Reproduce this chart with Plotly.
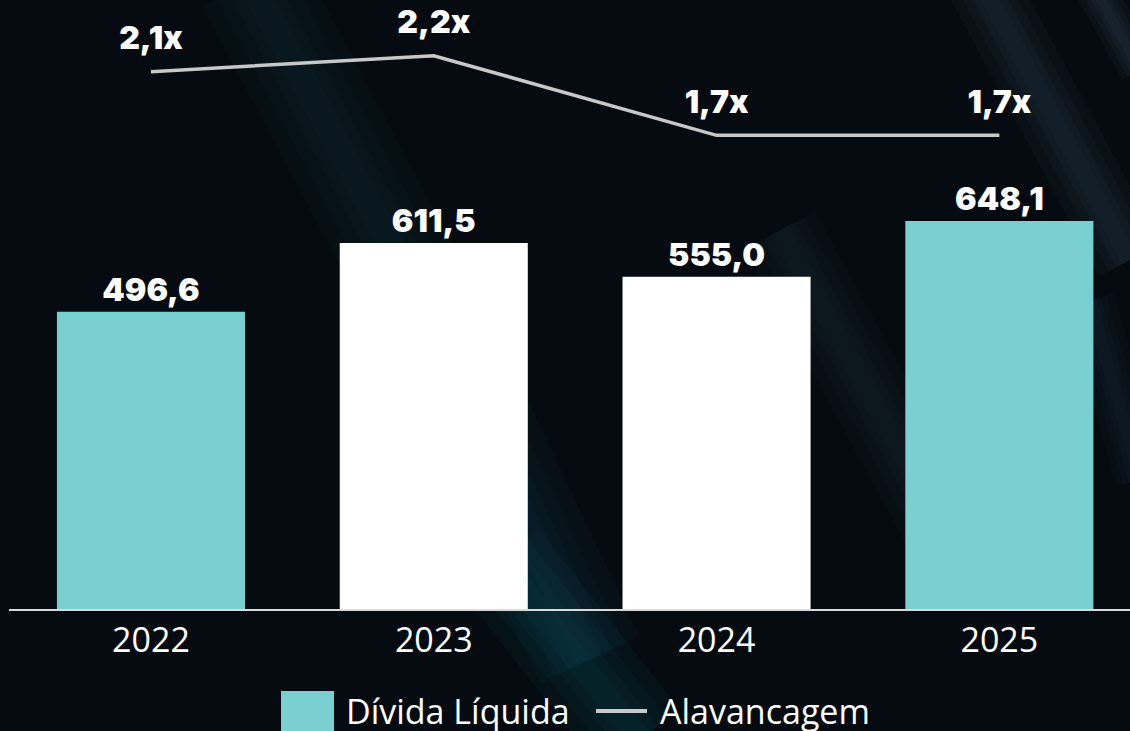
import plotly.graph_objects as go

# ---- data ----
years = ["2022", "2023", "2024", "2025"]
divida_liquida = [496.6, 611.5, 555.0, 648.1]
divida_labels = ["496,6", "611,5", "555,0", "648,1"]
alavancagem = [2.1, 2.2, 1.7, 1.7]
alavancagem_labels = ["2,1x", "2,2x", "1,7x", "1,7x"]
bar_colors = ["#7ACFD1", "#FFFFFF", "#FFFFFF", "#7ACFD1"]

W, H = 1130, 731
ML, MR, MT, MB = 9, 0, 0, 122
PW, PH = W - ML - MR, H - MT - MB


def px(x):
    return (x - ML) / PW


def py(y):
    return (H - MB - y) / PH


label_font = dict(family="Inter, DejaVu Sans", size=32, color="#FFFFFF", weight=900)

fig = go.Figure()
fig.add_trace(go.Bar(
    x=years, y=divida_liquida, name="Dívida Líquida",
    marker=dict(color=bar_colors, line=dict(width=0)),
    width=0.665,
    text=divida_labels, textposition="outside", textfont=label_font,
    cliponaxis=False, showlegend=False,
))
fig.add_trace(go.Scatter(
    x=years, y=alavancagem, name="Alavancagem", yaxis="y2",
    mode="lines+markers+text",
    line=dict(color="#C8C8C8", width=3.5),
    marker=dict(size=22, opacity=0),
    text=alavancagem_labels, textposition="top center", textfont=label_font,
    cliponaxis=False, showlegend=False,
))

shapes = []
# faint, soft background light streaks (stacked widths to mimic blur)
streaks = [
    ((250, -20), (420, 300), (25, 50, 70), 110),
    ((420, 300), (590, 660), (20, 70, 85), 110),
    ((500, 560), (640, 740), (12, 85, 95), 100),
    ((980, -20), (1130, 260), (60, 80, 100), 70),
    ((1090, -20), (1140, 70), (70, 90, 110), 40),
    ((780, 230), (960, 560), (30, 52, 70), 80),
    ((1090, 300), (1140, 480), (38, 58, 75), 50),
]
for (x0, y0), (x1, y1), (r, g, b), w in streaks:
    for frac in [1.0, 0.7, 0.45, 0.25]:
        shapes.append(dict(type="line", xref="paper", yref="paper",
                           x0=px(x0), y0=py(y0), x1=px(x1), y1=py(y1),
                           line=dict(color=f"rgba({r},{g},{b},0.09)", width=w * frac),
                           layer="below"))

# legend
shapes.append(dict(type="rect", xref="paper", yref="paper",
                   x0=px(281), x1=px(334), y0=py(750), y1=py(691),
                   fillcolor="#7ACFD1", line=dict(width=0)))
shapes.append(dict(type="line", xref="paper", yref="paper",
                   x0=px(596), x1=px(647), y0=py(711), y1=py(711),
                   line=dict(color="#C8C8C8", width=4)))

legend_font = dict(family="Open Sans", size=34, color="#FFFFFF")
annotations = [
    dict(text="Dívida Líquida", xref="paper", yref="paper", x=px(344), y=py(711),
         xanchor="left", yanchor="middle", showarrow=False, font=legend_font),
    dict(text="Alavancagem", xref="paper", yref="paper", x=px(658), y=py(711),
         xanchor="left", yanchor="middle", showarrow=False, font=legend_font),
]

fig.update_layout(
    width=W, height=H,
    margin=dict(l=ML, r=MR, t=MT, b=MB, pad=0),
    paper_bgcolor="#050B10", plot_bgcolor="rgba(0,0,0,0)",
    xaxis=dict(type="category", range=[-0.502, 3.462], showgrid=False, zeroline=False,
               showline=True, linecolor="#DADADA", linewidth=2, ticks="",
               tickfont=dict(family="Open Sans", size=34, color="#FFFFFF"),
               fixedrange=True),
    yaxis=dict(range=[0, 1017.5], visible=False, fixedrange=True),
    yaxis2=dict(range=[-1.273, 2.5497], overlaying="y", visible=False, fixedrange=True),
    shapes=shapes, annotations=annotations,
    showlegend=False,
)

fig.write_html(
    "out.html",
    config={"displayModeBar": False},
    post_script="document.body.style.margin='0';document.body.style.overflow='hidden';",
)
